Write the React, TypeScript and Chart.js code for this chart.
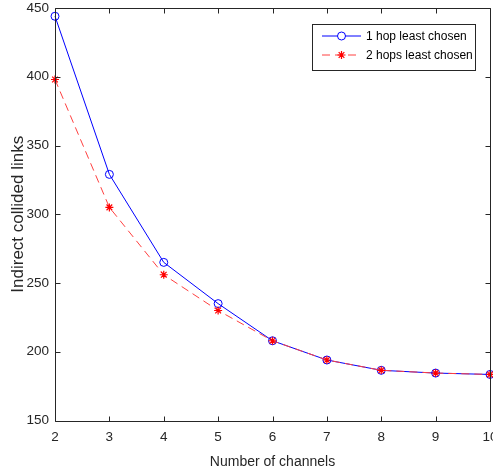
import React, { useEffect, useRef } from "react";
import { Chart, registerables } from "chart.js";

Chart.register(...registerables);

const channels = [2, 3, 4, 5, 6, 7, 8, 9, 10];
const oneHopLeastChosen = [444, 329, 265, 235, 208, 194, 186.5, 184.5, 183.5];
const twoHopsLeastChosen = [398, 305, 256, 230, 208, 194, 186.5, 184.5, 183.5];
const seriesLabels = ["1 hop least chosen", "2 hops least chosen"];
const xTitle = "Number of channels";
const yTitle = "Indirect collided links";

const AXIS = "#262626";
const FONT = "'Liberation Sans', Arial, sans-serif";

const boxPlugin = {
  id: "matlabBox",
  afterDatasetsDraw(chart: any) {
    const { ctx, chartArea: a, scales } = chart;
    ctx.save();
    ctx.strokeStyle = AXIS;
    ctx.lineWidth = 1;
    const L = Math.round(a.left) + 0.5;
    const R = Math.round(a.right) + 0.5;
    const T = Math.round(a.top) + 0.5;
    const B = Math.round(a.bottom) + 0.5;
    ctx.beginPath();
    ctx.rect(L, T, R - L, B - T);
    ctx.stroke();
    const tl = 5;
    ctx.beginPath();
    scales.x.ticks.forEach((t: any) => {
      const x = Math.round(scales.x.getPixelForValue(t.value)) + 0.5;
      ctx.moveTo(x, B);
      ctx.lineTo(x, B - tl);
      ctx.moveTo(x, T);
      ctx.lineTo(x, T + tl);
    });
    scales.y.ticks.forEach((t: any) => {
      const y = Math.round(scales.y.getPixelForValue(t.value)) + 0.5;
      ctx.moveTo(L, y);
      ctx.lineTo(L + tl, y);
      ctx.moveTo(R, y);
      ctx.lineTo(R - tl, y);
    });
    ctx.stroke();

    // legend
    const bx = 312.5, by = 24.5, bw = 163, bh = 46;
    ctx.fillStyle = "#ffffff";
    ctx.fillRect(bx, by, bw, bh);
    ctx.strokeStyle = AXIS;
    ctx.strokeRect(bx, by, bw, bh);
    const rows = [36, 55];
    chart.data.datasets.forEach((ds: any, i: number) => {
      const y = rows[i];
      ctx.save();
      ctx.strokeStyle = ds.borderColor;
      ctx.lineWidth = ds.borderWidth;
      ctx.setLineDash(ds.borderDash || []);
      ctx.beginPath();
      ctx.moveTo(322, y);
      ctx.lineTo(361, y);
      ctx.stroke();
      ctx.restore();
      ctx.save();
      ctx.strokeStyle = ds.pointBorderColor;
      ctx.lineWidth = ds.pointBorderWidth;
      ctx.beginPath();
      if (ds.pointStyle === "circle") {
        ctx.fillStyle = "#ffffff";
        ctx.arc(341.5, y, ds.pointRadius, 0, Math.PI * 2);
        ctx.fill();
        ctx.stroke();
      } else {
        const r = ds.pointRadius;
        for (let k = 0; k < 4; k++) {
          const ang = (k * Math.PI) / 4;
          ctx.moveTo(341.5 - r * Math.cos(ang), y - r * Math.sin(ang));
          ctx.lineTo(341.5 + r * Math.cos(ang), y + r * Math.sin(ang));
        }
        ctx.stroke();
      }
      ctx.restore();
      ctx.fillStyle = "#000000";
      ctx.font = `12px ${FONT}`;
      ctx.textBaseline = "middle";
      ctx.textAlign = "left";
      ctx.fillText(ds.label, 366, y + 0.5);
    });
    ctx.restore();
  },
};

const whiteBg = {
  id: "whiteBg",
  beforeDraw(chart: any) {
    const { ctx, width, height } = chart;
    ctx.save();
    ctx.fillStyle = "#ffffff";
    ctx.fillRect(0, 0, width, height);
    ctx.restore();
  },
};

export default function App() {
  const ref = useRef<HTMLCanvasElement>(null);
  useEffect(() => {
    if (!ref.current) return;
    const chart = new Chart(ref.current, {
      type: "line",
      data: {
        labels: channels,
        datasets: [
          {
            label: seriesLabels[0],
            data: channels.map((c, i) => ({ x: c, y: oneHopLeastChosen[i] })),
            borderColor: "#0000ff",
            borderWidth: 1,
            pointStyle: "circle",
            pointRadius: 4,
            pointBorderColor: "#0000ff",
            pointBorderWidth: 1,
            pointBackgroundColor: "rgba(0,0,0,0)",
            fill: false,
            tension: 0,
            clip: false as any,
            order: 1,
          },
          {
            label: seriesLabels[1],
            data: channels.map((c, i) => ({ x: c, y: twoHopsLeastChosen[i] })),
            borderColor: "#ff4040",
            borderWidth: 1,
            borderDash: [8, 5],
            pointStyle: "star",
            pointRadius: 4,
            pointBorderColor: "#ff0000",
            pointBorderWidth: 1.2,
            pointBackgroundColor: "#ff0000",
            fill: false,
            tension: 0,
            clip: false as any,
            order: 0,
          },
        ],
      },
      options: {
        animation: false,
        responsive: false,
        devicePixelRatio: 1,
        layout: { padding: { top: 8, right: 10, left: 0, bottom: 0 } },
        plugins: { legend: { display: false }, tooltip: { enabled: false } },
        scales: {
          x: {
            type: "linear",
            min: 2,
            max: 10,
            grid: { display: false, drawTicks: false },
            border: { display: false },
            ticks: {
              stepSize: 1,
              color: AXIS,
              padding: 9,
              font: { family: FONT, size: 13.5 },
              maxRotation: 0,
            },
            title: {
              display: true,
              text: xTitle,
              color: AXIS,
              font: { family: FONT, size: 14 },
              padding: { top: 0, bottom: 3 },
            },
            afterFit: (s: any) => {
              s.height = 53.5;
              s.paddingLeft = 0;
              s.paddingRight = 0;
            },
          },
          y: {
            min: 150,
            max: 450,
            grid: { display: false, drawTicks: false },
            border: { display: false },
            ticks: {
              stepSize: 50,
              color: AXIS,
              padding: 6,
              font: { family: FONT, size: 13.5 },
            },
            title: {
              display: true,
              text: yTitle,
              color: AXIS,
              font: { family: FONT, size: 17 },
              padding: { top: 8, bottom: 0 },
            },
            afterFit: (s: any) => {
              s.width = 55;
              s.paddingTop = 0;
              s.paddingBottom = 0;
            },
          },
        },
      },
      plugins: [whiteBg, boxPlugin],
    });
    return () => chart.destroy();
  }, []);
  return (
    <div
      style={{
        position: "absolute",
        left: 0,
        top: 0,
        width: 493,
        height: 474,
        overflow: "hidden",
        background: "#fff",
      }}
    >
      <canvas ref={ref} width={500} height={474} style={{ display: "block" }} />
    </div>
  );
}
